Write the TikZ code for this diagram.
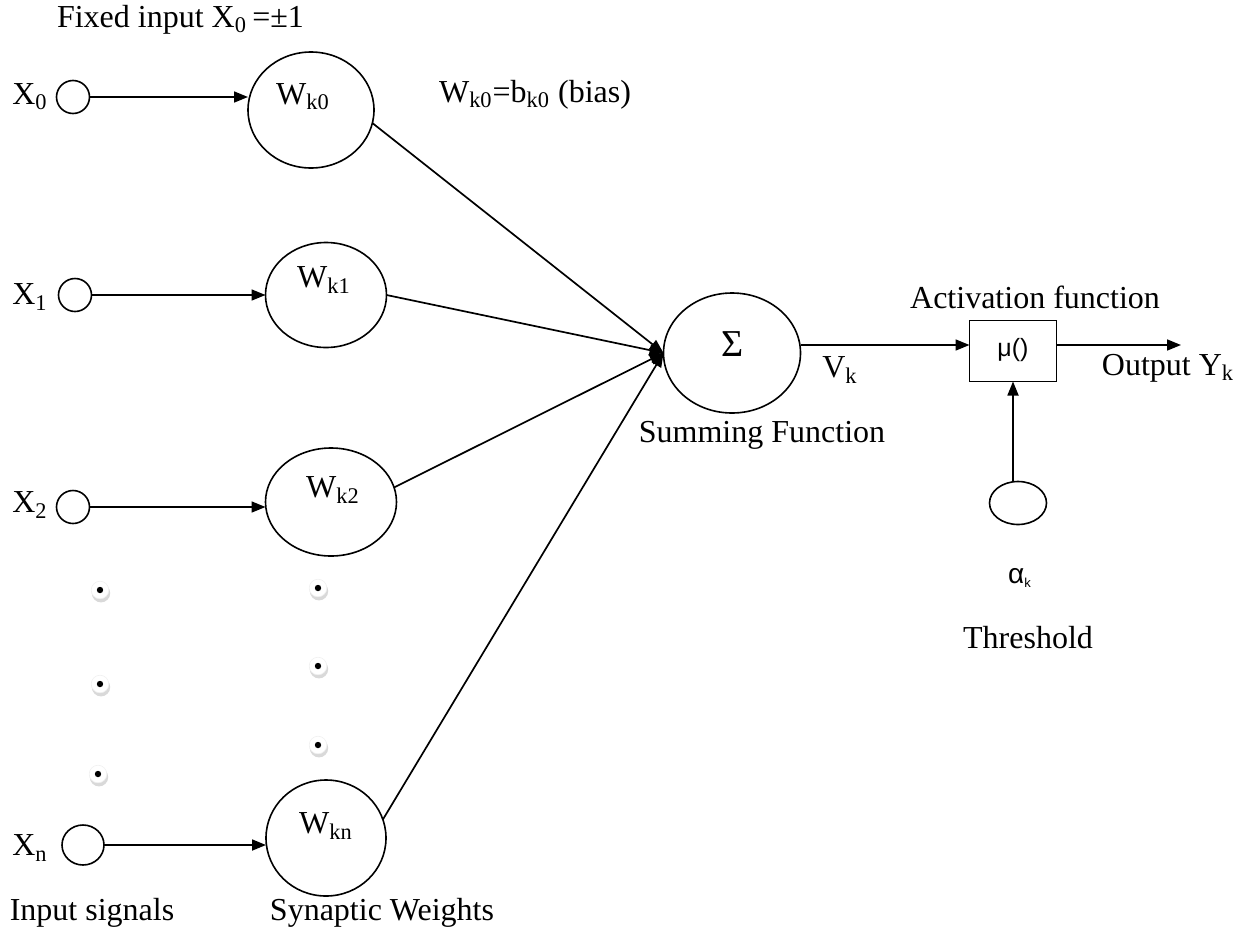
\documentclass[tikz,border=0pt]{standalone}
\usepackage{fontspec}
\setmainfont{Liberation Serif}
\newfontfamily\arialfont{Liberation Sans}
\usetikzlibrary{arrows.meta,shapes.geometric}
\newcommand{\sub}[1]{\textsubscript{#1}}
\begin{document}
\begin{tikzpicture}[x=0.5pt,y=-0.5pt,
  line width=0.85pt,
  every node/.style={font=\fontsize{16}{19}\selectfont, inner sep=0pt, outer sep=0pt},
  arr/.style={-{Triangle[length=7pt,width=5.5pt]}},
  cell/.style={draw, ellipse, line width=0.8pt},
  blob/.style={draw, ellipse, line width=0.8pt, minimum width=16.5pt, minimum height=16.5pt},
  dotmark/.pic={
    \fill[gray!30] (0.5pt,-1.6pt) circle (4.6pt);
    \fill[white, draw=gray!12, line width=0.3pt] (0,0) circle (4.4pt);
    \fill[black] (0,0) circle (1.6pt);
  }]
\useasboundingbox (0,0) rectangle (1247,932);

% input terminals
\node[blob] (x0) at (73,97) {};
\node[blob] (x1) at (75,295) {};
\node[blob] (x2) at (73,507) {};
\node[blob, minimum width=21pt, minimum height=20pt] (xn) at (83,845) {};

\node (lx0) at (30,97) {X\sub{0}};
\node (lx1) at (30,297) {X\sub{1}};
\node (lx2) at (30,505) {X\sub{2}};
\node (lxn) at (30,848) {X\sub{n}};

% synaptic weights
\node[cell, minimum width=63pt, minimum height=58pt] (w0) at (311,110) {};
\node[cell, minimum width=60.5pt, minimum height=52.5pt] (w1) at (326,295) {};
\node[cell, minimum width=65.5pt, minimum height=54pt] (w2) at (331,502) {};
\node[cell, minimum width=60pt, minimum height=58pt] (wn) at (326,838) {};

\node (tw0) at (303,97) {W\sub{k0}};
\node (tw1) at (324,280) {W\sub{k1}};
\node (tw2) at (333,490) {W\sub{k2}};
\node (twn) at (326,826) {W\sub{kn}};

% summing junction, activation and threshold
\node[cell, minimum width=68.5pt, minimum height=60pt] (sum) at (732,353) {};
\node[font=\fontsize{19}{22}\selectfont] (sigma) at (733,344) {Σ};
\node[draw, line width=0.8pt, minimum width=43.5pt, minimum height=30.5pt] (act) at (1013,351) {};
\node[font=\arialfont\fontsize{12.5}{15}\selectfont] (mu) at (1013,350) {μ()};
\node[cell, minimum width=28.5pt, minimum height=21.5pt] (th) at (1018,503) {};
\coordinate (out) at (1181,345);

% connectors
\draw[arr] (x0.east) -- (w0.west |- x0.east);
\draw[arr] (x1.east) -- (w1.west |- x1.east);
\draw[arr] (x2.east) -- (w2.west |- x2.east);
\draw[arr] (xn.east) -- (wn.west |- xn.east);

\draw[arr] (w0.-12) -- (sum.west);
\draw[arr] (w1.east) -- (sum.west);
\draw[arr] (w2.13) -- (sum.west);
\draw[arr] (wn.18) -- (sum.west);

\draw[arr] (sum.east |- out) -- (act.west |- out);
\draw[arr] (act.east |- out) -- (out);
\draw[arr] (th.north -| act.south) -- (act.south);

% continuation dots
\pic at (100,590) {dotmark};
\pic at (100,684) {dotmark};
\pic at (98,774) {dotmark};
\pic at (318,588) {dotmark};
\pic at (318,666) {dotmark};
\pic at (318,745) {dotmark};

% labels
\node[anchor=west] (fixed) at (57,20) {Fixed input X\sub{0}\,=±1};
\node (bias) at (535,95) {W\sub{k0}=b\sub{k0} (bias)};
\node (vk) at (840,370) {V\sub{k}};
\node (sumlbl) at (762,435) {Summing Function};
\node (actlbl) at (1035,297) {Activation function};
\node (outlbl) at (1168,368) {Output Y\sub{k}};
\node[font=\arialfont\fontsize{14}{16}\selectfont] (alpha) at (1020,578) {α\textsubscript{\fontsize{6.5}{7}\selectfont k}};
\node (thlbl) at (1028,638) {Threshold};
\node (inlbl) at (92,913) {Input signals};
\node (swlbl) at (382,913) {Synaptic Weights};
\end{tikzpicture}
\end{document}
